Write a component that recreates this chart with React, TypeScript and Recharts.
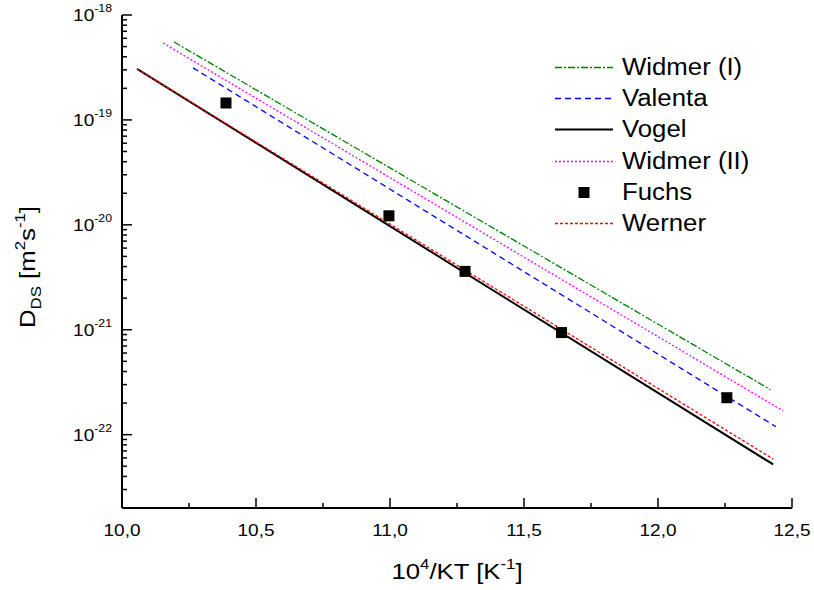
import React from 'react';
import { ComposedChart, Line, Scatter, XAxis, YAxis, Legend } from 'recharts';

const FONT = '"Liberation Sans", Arial, Helvetica, sans-serif';

// ---- axis ticks / labels ----
const xDomain = [10, 12.5];
const xMajorTicks = [10.0, 10.5, 11.0, 11.5, 12.0, 12.5];
const xMajorLabels = ['10,0', '10,5', '11,0', '11,5', '12,0', '12,5'];
const xMinorTicks = [10.25, 10.75, 11.25, 11.75, 12.25];

const yDomain = [2e-23, 1e-18];
const yMajorExponents = [-22, -21, -20, -19, -18];
const yMajorLabels = ['-22', '-21', '-20', '-19', '-18'];
const yMinorDecades = [-23, -22, -21, -20, -19];
const yMinorMultipliers = [2, 3, 4, 5, 6, 7, 8, 9];

// ---- series data (x = 10^4/KT, y = D_DS in m^2/s) ----
const widmerI = [
  { x: 10.194, y: 5.53e-19 },
  { x: 12.42, y: 2.68e-22 },
];
const valenta = [
  { x: 10.265, y: 3.13e-19 },
  { x: 12.44, y: 1.19e-22 },
];
const vogel = [
  { x: 10.056, y: 3.06e-19 },
  { x: 12.43, y: 5.2e-23 },
];
const widmerII = [
  { x: 10.153, y: 5.41e-19 },
  { x: 12.466, y: 1.69e-22 },
];
const fuchs = [
  { x: 10.388, y: 1.45e-19 },
  { x: 10.996, y: 1.22e-20 },
  { x: 11.28, y: 3.6e-21 },
  { x: 11.64, y: 9.4e-22 },
  { x: 12.257, y: 2.25e-22 },
];
const werner = [
  { x: 10.056, y: 3.06e-19 },
  { x: 12.43, y: 5.85e-23 },
];

const legendNames = ['Widmer (I)', 'Valenta', 'Vogel', 'Widmer (II)', 'Fuchs', 'Werner'];

const xTicksAll = [...xMajorTicks, ...xMinorTicks].sort((a, b) => a - b);
const yTicksAll: number[] = [];
yMinorDecades.forEach((d) => yMinorMultipliers.forEach((m) => yTicksAll.push(m * Math.pow(10, d))));
yMajorExponents.forEach((e) => yTicksAll.push(Math.pow(10, e)));
yTicksAll.sort((a, b) => a - b);

const isMajorX = (v: number) => xMajorTicks.some((t) => Math.abs(t - v) < 1e-6);
const majorXLabel = (v: number) => xMajorLabels[xMajorTicks.findIndex((t) => Math.abs(t - v) < 1e-6)];
const isMajorY = (v: number) => {
  const l = Math.log10(v);
  return Math.abs(l - Math.round(l)) < 1e-6;
};
const majorYLabel = (v: number) => yMajorLabels[yMajorExponents.indexOf(Math.round(Math.log10(v)))];

const MAJOR = 10;
const MINOR = 5;
const TICK_W = 1.5;
const SX = 1.12; // horizontal stretch of the text, as in the reference

const BottomTick = (p: any) => {
  const { x, y, payload } = p;
  const major = isMajorX(payload.value);
  return (
    <g>
      <line x1={x} y1={y} x2={x} y2={y - (major ? MAJOR : MINOR)} stroke="#000" strokeWidth={TICK_W} />
      {major && (
        <text
          transform={`translate(${x},${y + 28}) scale(${SX},1)`}
          x={0}
          y={0}
          textAnchor="middle"
          fontFamily={FONT}
          fontSize={17}
          fill="#000"
        >
          {majorXLabel(payload.value)}
        </text>
      )}
    </g>
  );
};

const TopTick = (p: any) => {
  const { x, y, payload } = p;
  const major = isMajorX(payload.value);
  return <line x1={x} y1={y} x2={x} y2={y + (major ? MAJOR : MINOR)} stroke="#000" strokeWidth={TICK_W} />;
};

const LeftTick = (p: any) => {
  const { x, y, payload } = p;
  const major = isMajorY(payload.value);
  return (
    <g>
      <line x1={x} y1={y} x2={x + (major ? MAJOR : MINOR)} y2={y} stroke="#000" strokeWidth={TICK_W} />
      {major && (
        <text
          transform={`translate(${x - 10},${y + 6}) scale(${SX},1)`}
          x={0}
          y={0}
          textAnchor="end"
          fontFamily={FONT}
          fontSize={17}
          fill="#000"
        >
          10
          <tspan dy={-9} fontSize={11}>
            {majorYLabel(payload.value)}
          </tspan>
        </text>
      )}
    </g>
  );
};

const RightTick = (p: any) => {
  const { x, y, payload } = p;
  const major = isMajorY(payload.value);
  return <line x1={x} y1={y} x2={x - (major ? MAJOR : MINOR)} y2={y} stroke="#000" strokeWidth={TICK_W} />;
};

const XTitle = () => (
  <text
    transform={`translate(457,579) scale(${SX},1)`}
    x={0}
    y={0}
    textAnchor="middle"
    fontFamily={FONT}
    fontSize={23}
    fill="#000"
  >
    10
    <tspan dy={-10} fontSize={15}>4</tspan>
    <tspan dy={10}>/KT [K</tspan>
    <tspan dy={-10} fontSize={15}>-1</tspan>
    <tspan dy={10}>]</tspan>
  </text>
);

const YTitle = () => (
  <text
    transform={`translate(35,267) rotate(-90) scale(${SX},1)`}
    x={0}
    y={0}
    textAnchor="middle"
    fontFamily={FONT}
    fontSize={23}
    fill="#000"
  >
    D
    <tspan dy={6} fontSize={15}>DS</tspan>
    <tspan dy={-6}> [m</tspan>
    <tspan dy={-10} fontSize={15}>2</tspan>
    <tspan dy={10}>s</tspan>
    <tspan dy={-10} fontSize={15}>-1</tspan>
    <tspan dy={10}>]</tspan>
  </text>
);

const legendStyles = [
  { stroke: '#008000', dash: '7 2 2 2', width: 1.3 },
  { stroke: '#0000ff', dash: '6 4', width: 1.3 },
  { stroke: '#000000', dash: undefined, width: 2 },
  { stroke: '#ff00ff', dash: '2 2', width: 1.3 },
  { stroke: null, dash: undefined, width: 0 },
  { stroke: '#ff0000', dash: '3 2', width: 1.3 },
];

const LegendBox = () => (
  <div style={{ fontFamily: FONT, fontSize: 23, color: '#000' }}>
    {legendNames.map((name, i) => {
      const st = legendStyles[i];
      return (
        <div key={name} style={{ display: 'flex', alignItems: 'center', height: 31.2 }}>
          <svg width={58} height={31} style={{ display: 'block', flex: 'none' }}>
            {st.stroke ? (
              <line x1={0} y1={15.5} x2={58} y2={15.5} stroke={st.stroke} strokeWidth={st.width} strokeDasharray={st.dash} />
            ) : (
              <rect x={23.5} y={10} width={11} height={11} fill="#000" />
            )}
          </svg>
          <span
            style={{
              marginLeft: 9,
              lineHeight: '31px',
              whiteSpace: 'nowrap',
              display: 'inline-block',
              transform: `scaleX(${SX})`,
              transformOrigin: 'left center',
            }}
          >
            {name}
          </span>
        </div>
      );
    })}
  </div>
);

const Square = (p: any) => <rect x={p.cx - 5.5} y={p.cy - 5.5} width={11} height={11} fill="#000" />;

export default function App() {
  return (
    <div style={{ position: 'absolute', left: 0, top: 0 }}>
      <ComposedChart width={814} height={590} margin={{ top: 15, right: 22, bottom: 0, left: 0 }}>
        <XAxis
          xAxisId="b"
          dataKey="x"
          type="number"
          domain={xDomain}
          allowDataOverflow
          ticks={xTicksAll}
          interval={0}
          height={82}
          tickSize={0}
          tickMargin={0}
          tick={<BottomTick />}
          axisLine={{ stroke: '#000', strokeWidth: 2 }}
          tickLine={false}
          label={<XTitle />}
        />
        <XAxis
          xAxisId="t"
          orientation="top"
          dataKey="x"
          type="number"
          domain={xDomain}
          allowDataOverflow
          ticks={xTicksAll}
          interval={0}
          height={0}
          tickSize={0}
          tickMargin={0}
          tick={<TopTick />}
          axisLine={{ stroke: '#000', strokeWidth: 2 }}
          tickLine={false}
        />
        <YAxis
          yAxisId="l"
          dataKey="y"
          type="number"
          scale="log"
          domain={yDomain}
          allowDataOverflow
          ticks={yTicksAll}
          interval={0}
          width={122}
          tickSize={0}
          tickMargin={0}
          tick={<LeftTick />}
          axisLine={{ stroke: '#000', strokeWidth: 2 }}
          tickLine={false}
          label={<YTitle />}
        />
        <YAxis
          yAxisId="r"
          orientation="right"
          dataKey="y"
          type="number"
          scale="log"
          domain={yDomain}
          allowDataOverflow
          ticks={yTicksAll}
          interval={0}
          width={0}
          tickSize={0}
          tickMargin={0}
          tick={<RightTick />}
          axisLine={{ stroke: '#000', strokeWidth: 2 }}
          tickLine={false}
        />
        <Line xAxisId="b" yAxisId="l" data={widmerI} dataKey="y" name="Widmer (I)" type="linear" stroke="#008000" strokeWidth={1.3} strokeDasharray="7 2 2 2" dot={false} isAnimationActive={false} />
        <Line xAxisId="b" yAxisId="l" data={valenta} dataKey="y" name="Valenta" type="linear" stroke="#0000ff" strokeWidth={1.3} strokeDasharray="6 4" dot={false} isAnimationActive={false} />
        <Line xAxisId="b" yAxisId="l" data={vogel} dataKey="y" name="Vogel" type="linear" stroke="#000000" strokeWidth={2} dot={false} isAnimationActive={false} />
        <Line xAxisId="b" yAxisId="l" data={widmerII} dataKey="y" name="Widmer (II)" type="linear" stroke="#ff00ff" strokeWidth={1.3} strokeDasharray="2 2" dot={false} isAnimationActive={false} />
        <Scatter xAxisId="b" yAxisId="l" data={fuchs} dataKey="y" name="Fuchs" fill="#000" shape={<Square />} isAnimationActive={false} />
        <Line xAxisId="b" yAxisId="l" data={werner} dataKey="y" name="Werner" type="linear" stroke="#ff0000" strokeWidth={1.3} strokeDasharray="3 2" dot={false} isAnimationActive={false} />
        <Legend
          layout="vertical"
          align="center"
          verticalAlign="middle"
          wrapperStyle={{ left: 555, top: 52, width: 250, height: 190 }}
          content={() => <LegendBox />}
        />
      </ComposedChart>
    </div>
  );
}
